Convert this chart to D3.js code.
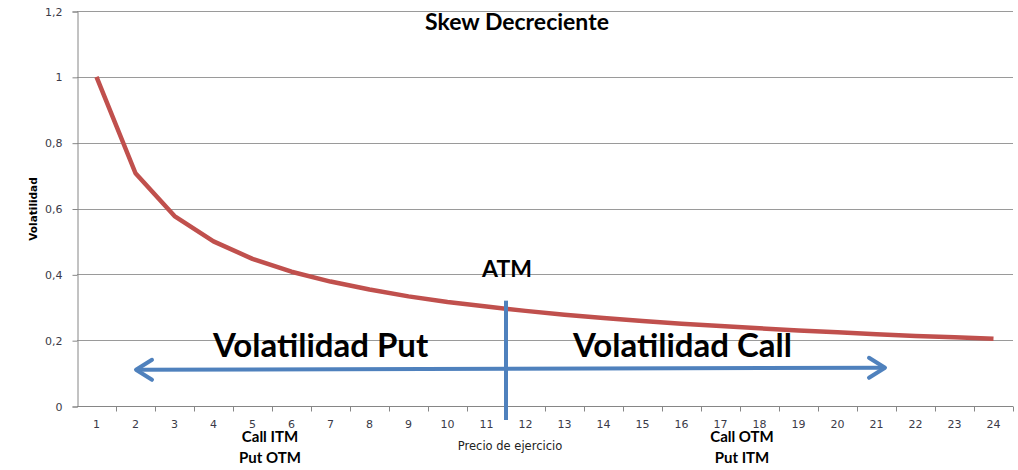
<!DOCTYPE html>
<html>
<head>
<meta charset="utf-8">
<script src="https://cdn.jsdelivr.net/npm/d3@7"></script>
<style>
  body { margin: 0; background: #fff; }
  svg { display: block; }
</style>
</head>
<body>
<div id="chart"></div>
<script>
// strike categories and implied volatility
var strikes = ["1","2","3","4","5","6","7","8","9","10","11","12","13","14","15","16","17","18","19","20","21","22","23","24"];
var volatility = [1.0, 0.707, 0.577, 0.5, 0.447, 0.408, 0.378, 0.354, 0.333, 0.316, 0.302, 0.289,
                  0.277, 0.267, 0.258, 0.25, 0.243, 0.236, 0.229, 0.224, 0.218, 0.213, 0.209, 0.204];
var yTicks = [0, 0.2, 0.4, 0.6, 0.8, 1, 1.2];

(function() {
var width = 1018, height = 470;
var plotLeft = 77, plotRight = 1013, plotTop = 11, plotBottom = 406;

var svg = d3.select("#chart").append("svg")
    .attr("width", width)
    .attr("height", height);

var x = d3.scaleBand().domain(strikes).range([plotLeft, plotRight]).padding(0);
var y = d3.scaleLinear().domain([0, 1.2]).range([plotBottom, plotTop]);

var fmt = function(d) { return String(d).replace(".", ","); };

// gridlines
svg.append("g").selectAll("line")
    .data(yTicks.filter(function(d) { return d > 0; }))
    .join("line")
    .attr("x1", plotLeft).attr("x2", plotRight)
    .attr("y1", function(d) { return Math.round(y(d)) + 0.5; })
    .attr("y2", function(d) { return Math.round(y(d)) + 0.5; })
    .attr("stroke", "#9a9a9a").attr("stroke-width", 1);

// y axis
var yAxis = svg.append("g")
    .attr("transform", "translate(" + (plotLeft + 0.5) + ",0.5)")
    .call(d3.axisLeft(y).tickValues(yTicks).tickFormat(fmt).tickSize(5).tickPadding(10));
yAxis.select(".domain").attr("stroke", "#868686");
yAxis.selectAll(".tick line").attr("stroke", "#868686");
yAxis.selectAll("text")
    .attr("font-family", "DejaVu Sans").attr("font-size", 11).attr("fill", "#3a3a48");

// x axis, ticks on category boundaries
var xAxis = svg.append("g")
    .attr("transform", "translate(0," + (plotBottom + 0.5) + ")");
xAxis.append("line")
    .attr("x1", plotLeft).attr("x2", plotRight)
    .attr("stroke", "#868686");
xAxis.selectAll("line.tk")
    .data(strikes)
    .join("line")
    .attr("class", "tk")
    .attr("x1", function(d) { return Math.round(x(d) + x.bandwidth()) + 0.5; })
    .attr("x2", function(d) { return Math.round(x(d) + x.bandwidth()) + 0.5; })
    .attr("y1", 0).attr("y2", 5)
    .attr("stroke", "#868686");
xAxis.selectAll("text")
    .data(strikes)
    .join("text")
    .attr("x", function(d) { return x(d) + x.bandwidth() / 2; })
    .attr("y", 21)
    .attr("text-anchor", "middle")
    .attr("font-family", "DejaVu Sans").attr("font-size", 11).attr("fill", "#3a3a48")
    .text(function(d) { return d; });

// series line
var line = d3.line()
    .x(function(d, i) { return x(strikes[i]) + x.bandwidth() / 2; })
    .y(function(d) { return y(d); });

svg.append("path")
    .attr("d", line(volatility))
    .attr("fill", "none")
    .attr("stroke", "#c0504d")
    .attr("stroke-width", 4.5)
    .attr("stroke-linejoin", "round");

// axis titles
svg.append("text")
    .attr("transform", "translate(37,209) rotate(-90)")
    .attr("text-anchor", "middle")
    .attr("font-family", "DejaVu Sans").attr("font-weight", "bold").attr("font-size", 10.5)
    .attr("fill", "#000")
    .text("Volatilidad");

svg.append("text")
    .attr("x", 510).attr("y", 450)
    .attr("text-anchor", "middle")
    .attr("font-family", "DejaVu Sans").attr("font-size", 11.5)
    .attr("fill", "#222")
    .text("Precio de ejercicio");

svg.append("text")
    .attr("x", 517).attr("y", 30)
    .attr("text-anchor", "middle")
    .attr("font-family", "Lato").attr("font-weight", "bold").attr("font-size", 23)
    .attr("fill", "#000")
    .text("Skew Decreciente");

// annotations
var blue = "#4f81bd";
var atmX = x("11") + x.bandwidth();

svg.append("text")
    .attr("x", atmX + 1).attr("y", 277)
    .attr("text-anchor", "middle")
    .attr("font-family", "Lato").attr("font-weight", "bold").attr("font-size", 23)
    .text("ATM");

svg.append("line")
    .attr("x1", atmX).attr("x2", atmX)
    .attr("y1", y(0.32)).attr("y2", 420)
    .attr("stroke", blue).attr("stroke-width", 4);

var arrowY = y(0.11);
var ax1 = 136, ax2 = 885;
svg.append("line")
    .attr("x1", ax1 + 2).attr("x2", ax2 - 2)
    .attr("y1", arrowY).attr("y2", arrowY - 2)
    .attr("stroke", blue).attr("stroke-width", 4);
svg.append("path")
    .attr("d", "M" + (ax1 + 16) + "," + (arrowY - 10) + "L" + ax1 + "," + arrowY + "L" + (ax1 + 16) + "," + (arrowY + 10))
    .attr("fill", "none").attr("stroke", blue).attr("stroke-width", 4)
    .attr("stroke-linejoin", "round").attr("stroke-linecap", "round");
svg.append("path")
    .attr("d", "M" + (ax2 - 16) + "," + (arrowY - 12) + "L" + ax2 + "," + (arrowY - 2) + "L" + (ax2 - 16) + "," + (arrowY + 8))
    .attr("fill", "none").attr("stroke", blue).attr("stroke-width", 4)
    .attr("stroke-linejoin", "round").attr("stroke-linecap", "round");

svg.append("text")
    .attr("x", 213).attr("y", 357)
    .attr("font-family", "Lato").attr("font-weight", "bold").attr("font-size", 33)
    .text("Volatilidad Put");
svg.append("text")
    .attr("x", 573).attr("y", 357)
    .attr("font-family", "Lato").attr("font-weight", "bold").attr("font-size", 33)
    .text("Volatilidad Call");

function twoLines(cx, a, b) {
    var t = svg.append("text")
        .attr("text-anchor", "middle")
        .attr("font-family", "Lato").attr("font-weight", "bold").attr("font-size", 15);
    t.append("tspan").attr("x", cx).attr("y", 442).text(a);
    t.append("tspan").attr("x", cx).attr("y", 463).text(b);
}
twoLines(270, "Call ITM", "Put OTM");
twoLines(742, "Call OTM", "Put ITM");
})();
</script>
</body>
</html>
